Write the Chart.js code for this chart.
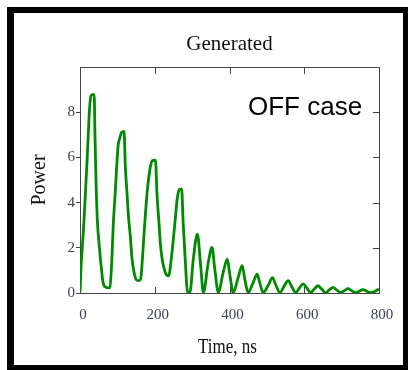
<!DOCTYPE html>
<html>
<head>
<meta charset="utf-8">
<script src="https://cdn.jsdelivr.net/npm/chart.js@4.4.1/dist/chart.umd.min.js"></script>
<style>
  html, body { margin: 0; padding: 0; background: #ffffff; }
  canvas { display: block; }
</style>
</head>
<body>
<canvas id="c" width="409" height="370"></canvas>
<script>
// ---- data ----
const chartTitle = "Generated";
const xTitle = "Time, ns";
const yTitle = "Power";
const noteText = "OFF case";

const timeNs = [0, 3, 9, 13, 18, 22, 25, 28.5, 33, 38, 40, 43, 46, 52, 58, 62, 70, 76, 80,
  85, 89, 94, 98, 102, 107, 111, 118, 121, 126, 130, 135, 139, 144, 150, 156, 162,
  166, 170, 175, 180, 184, 188, 193, 202, 206, 211, 215, 220, 228, 237,
  245, 254, 260, 266, 272, 276, 281, 288, 294, 303, 314, 323, 330, 343, 353, 361, 370,
  383, 394, 401, 410, 423, 434, 441, 450, 463, 474, 481, 490, 504, 515, 524, 535,
  546, 557, 566, 577, 587, 597, 607, 617, 627, 637, 647, 657, 667, 677, 687, 697,
  707, 717, 727, 737, 747, 757, 767, 777, 790, 800];

const power = [0.05, 1.2, 2.74, 3.92, 5.55, 6.96, 8.0, 8.67, 8.78, 8.78, 7.03, 4.81, 3.33, 2.0, 0.96, 0.44, 0.25, 0.23, 0.25,
  1.4, 3.03, 4.37, 5.55, 6.52, 6.89, 7.1, 7.15, 5.7, 4.37, 3.33, 2.44, 1.55, 0.96, 0.6, 0.55, 0.6,
  1.26, 2.29, 3.48, 4.52, 5.11, 5.55, 5.85, 5.88, 4.37, 3.18, 2.2, 1.48, 0.92, 0.76,
  1.63, 3.11, 4.15, 4.59, 4.59, 3.11, 1.63, 0.03, 0.03, 1.48, 2.6, 1.18, 0.02, 1.33, 2.02, 1.0, 0.02,
  0.9, 1.5, 0.8, 0.02, 0.67, 1.21, 0.6, 0.02, 0.45, 0.83, 0.45, 0.02, 0.35, 0.68, 0.35, 0.02,
  0.3, 0.55, 0.3, 0.02, 0.22, 0.4, 0.22, 0.02, 0.18, 0.32, 0.17, 0.02, 0.14, 0.25, 0.13, 0.02,
  0.1, 0.19, 0.1, 0.02, 0.08, 0.15, 0.08, 0.02, 0.08, 0.18];

const xTickValues = [0, 200, 400, 600, 800];
const yTickValues = [0, 2, 4, 6, 8];

// ---- drawing ----
const SERIF = "'Liberation Serif', 'Times New Roman', serif";
const AXIS_COLOR = '#444444';
const LABEL_COLOR = '#3a3f58';

const framePlugin = {
  id: 'frame',
  beforeDraw(chart) {
    const ctx = chart.ctx;
    ctx.save();
    ctx.fillStyle = '#ffffff';
    ctx.fillRect(0, 0, chart.width, chart.height);
    ctx.fillStyle = '#000000';
    ctx.fillRect(7, 7, 401, 363);
    ctx.fillStyle = '#ffffff';
    ctx.fillRect(14, 13, 389, 352);
    ctx.restore();
  },
  beforeDatasetsDraw(chart) {
    const ctx = chart.ctx;
    const a = chart.chartArea;
    const xs = chart.scales.x, ys = chart.scales.y;
    ctx.save();
    ctx.strokeStyle = AXIS_COLOR;
    ctx.lineWidth = 1;
    ctx.strokeRect(a.left + 0.5, a.top + 0.5, a.right - a.left, a.bottom - a.top);
    ctx.beginPath();
    xTickValues.forEach(v => {
      if (v === xs.min || v === xs.max) return;
      const px = Math.round(xs.getPixelForValue(v)) + 0.5;
      ctx.moveTo(px, a.top); ctx.lineTo(px, a.top + 7);
      ctx.moveTo(px, a.bottom); ctx.lineTo(px, a.bottom - 6);
    });
    yTickValues.forEach(v => {
      if (v === ys.min || v === ys.max) return;
      const py = Math.round(ys.getPixelForValue(v)) + 0.5;
      ctx.moveTo(a.right, py); ctx.lineTo(a.right - 6, py);
    });
    ctx.stroke();
    ctx.restore();
  },
  afterDraw(chart) {
    const ctx = chart.ctx;
    const a = chart.chartArea;
    ctx.save();
    ctx.fillStyle = '#111111';
    ctx.textAlign = 'center';
    ctx.textBaseline = 'alphabetic';
    ctx.font = '21px ' + SERIF;
    ctx.fillText(chartTitle, (a.left + a.right) / 2, 50);

    ctx.save();
    ctx.translate(227.5, 353);
    ctx.scale(0.85, 1);
    ctx.font = '20px ' + SERIF;
    ctx.fillText(xTitle, 0, 0);
    ctx.restore();

    ctx.save();
    ctx.translate(45, 180);
    ctx.rotate(-Math.PI / 2);
    ctx.font = '20px ' + SERIF;
    ctx.fillText(yTitle, 0, 0);
    ctx.restore();

    ctx.fillStyle = '#000000';
    ctx.textAlign = 'left';
    ctx.save();
    ctx.translate(248, 115);
    ctx.scale(1.04, 1.04);
    ctx.font = "25px 'Liberation Sans', Arial, sans-serif";
    ctx.fillText(noteText, 0, 0);
    ctx.restore();
    ctx.restore();
  }
};

const points = timeNs.map((t, i) => ({ x: t, y: power[i] }));

new Chart(document.getElementById('c'), {
  type: 'line',
  data: {
    datasets: [{
      data: points,
      borderColor: '#008a00',
      borderWidth: 2.8,
      pointRadius: 0,
      cubicInterpolationMode: 'monotone',
      fill: false
    }]
  },
  options: {
    responsive: false,
    animation: false,
    events: [],
    layout: { padding: { left: 14, right: 30, top: 67, bottom: 0 } },
    plugins: { legend: { display: false }, tooltip: { enabled: false }, title: { display: false } },
    scales: {
      x: {
        type: 'linear',
        min: 0, max: 800,
        afterBuildTicks: s => { s.ticks = xTickValues.map(v => ({ value: v })); },
        afterFit: s => { s.height = 77; },
        grid: { display: false },
        border: { display: false },
        ticks: {
          font: { family: SERIF, size: 15 },
          color: LABEL_COLOR,
          padding: 5,
          labelOffset: 3,
          maxRotation: 0,
          autoSkip: false
        }
      },
      y: {
        type: 'linear',
        min: 0, max: 10,
        afterBuildTicks: s => { s.ticks = yTickValues.map(v => ({ value: v })); },
        afterFit: s => { s.width = 66; },
        grid: { drawOnChartArea: false, drawTicks: true, tickLength: 4, color: AXIS_COLOR },
        border: { display: false },
        ticks: {
          font: { family: SERIF, size: 15 },
          color: LABEL_COLOR,
          padding: 1,
          autoSkip: false
        }
      }
    }
  },
  plugins: [framePlugin]
});
</script>
</body>
</html>
